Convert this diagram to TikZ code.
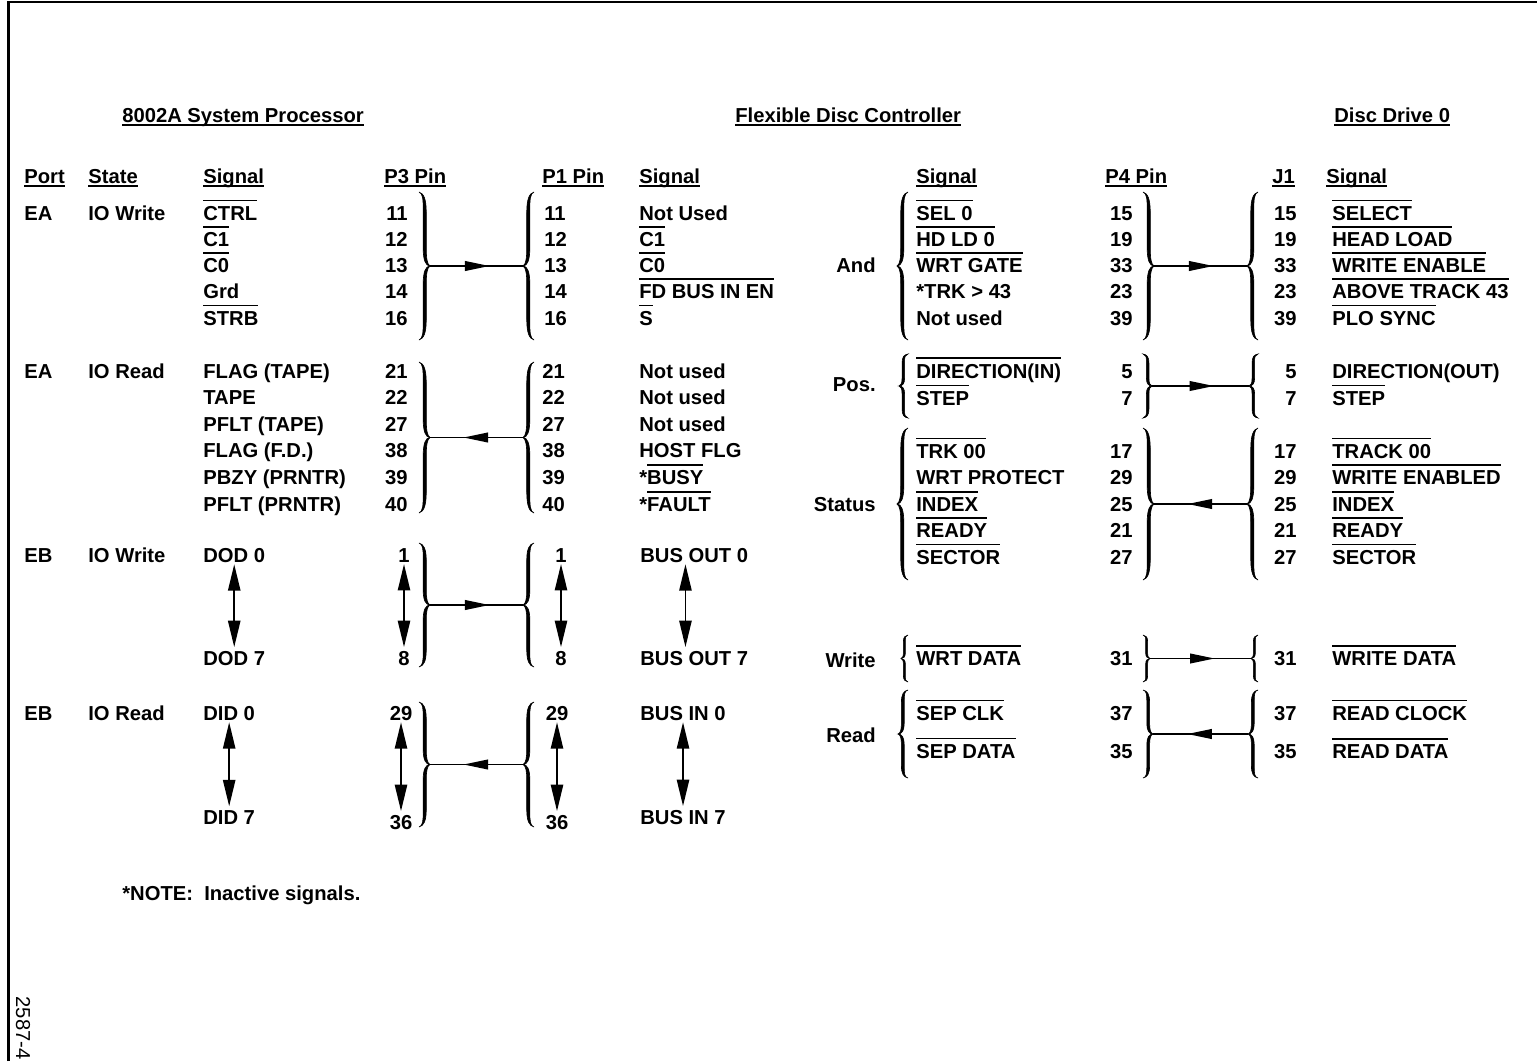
\documentclass[tikz,border=0pt]{standalone}
\usepackage{fontspec}
\setmainfont{Liberation Sans}
\usetikzlibrary{arrows.meta,decorations.markings}

% overlined / underlined signal names
\newbox\olbox
\newcommand{\ovl}[1]{\setbox\olbox\hbox{#1}\rlap{\rule[\dimexpr\ht\olbox+2.6pt\relax]{\wd\olbox}{1pt}}\box\olbox}
\newcommand{\unl}[1]{\setbox\olbox\hbox{#1}\rlap{\rule[-2.4pt]{\wd\olbox}{1pt}}\box\olbox}

% brace: x, top y, bottom y, depth (>0 gives }, <0 gives {)
\newcommand{\brk}[4]{%
  \begin{scope}[shift={(#1,#2)}, xscale=#4, yscale=#3-#2]
    \filldraw[line width=0.35pt] (0,0) .. controls (0.35,0.01) and (0.38,0.05) .. (0.38,0.12)
      -- (0.38,0.38) .. controls (0.38,0.46) and (0.6,0.5) .. (1,0.5)
      .. controls (0.6,0.5) and (0.38,0.54) .. (0.38,0.62)
      -- (0.38,0.88) .. controls (0.38,0.95) and (0.35,0.99) .. (0,1)
      .. controls (0.45,0.99) and (0.66,0.95) .. (0.66,0.86)
      -- (0.66,0.62) .. controls (0.66,0.55) and (0.75,0.51) .. (1,0.5)
      .. controls (0.75,0.49) and (0.66,0.45) .. (0.66,0.38)
      -- (0.66,0.14) .. controls (0.66,0.05) and (0.45,0.01) .. (0,0) -- cycle;
  \end{scope}}

\begin{document}
\begin{tikzpicture}[x=0.02cm, y=-0.02cm,
    every node/.style={font=\fontsize{11.5}{14}\selectfont\bfseries, inner sep=0pt},
    txt/.style={anchor=base west},
    pin/.style={anchor=base east},
    mid/.style={anchor=base},
    link/.style={line width=1pt, postaction={decorate},
      decoration={markings, mark=at position 0.64 with {\arrow{Triangle[length=14pt, width=5.5pt]}}}},
    updown/.style={line width=0.9pt, {Triangle[length=15pt, width=7pt]}-{Triangle[length=15pt, width=7pt]},
      shorten <=1pt, shorten >=2pt}]
    \useasboundingbox (0,0) rectangle (1537,1061);

    % frame
    \draw[line width=1.6pt] (8.5,1061) -- (8.5,2) -- (1537,2);

    % titles
    \node[txt] (hproc) at (122,122) {\unl{8002A System Processor}};
    \node[txt] (hfdc) at (735,122) {\unl{Flexible Disc Controller}};
    \node[txt] (hdrv) at (1334,122) {\unl{Disc Drive 0}};

    % column heads
    \foreach \x/\t/\n in {24/Port/cport, 88/State/cstate, 203/Signal/csig, 384/P3 Pin/cpthree,
        542/P1 Pin/cpone, 639/Signal/csigb, 916/Signal/csigc, 1105/P4 Pin/cpfour, 1272/J1/cjone, 1326/Signal/csigd}
      \node[txt] (\n) at (\x,183) {\unl{\t}};

    % EA, IO Write
    \node[txt] (porta) at (24,220) {EA};
    \node[txt] (statea) at (88,220) {IO Write};
    \foreach \t [count=\i] in {\ovl{CTRL},\ovl{C1},\ovl{C0},Grd,\ovl{STRB}}
      \node[txt] (sa\i) at (203,{193.75+26.25*\i}) {\t};
    \foreach \p [count=\i] in {11,12,13,14,16} {
      \node[pin] (pa\i) at (408,{193.75+26.25*\i}) {\p};
      \node[txt] (qa\i) at (544,{193.75+26.25*\i}) {\p};
    }
    \foreach \t [count=\i] in {Not Used,\ovl{C1},\ovl{C0},\ovl{FD BUS IN EN},\ovl{S}}
      \node[txt] (ra\i) at (639,{193.75+26.25*\i}) {\t};

    % EA, IO Read
    \node[txt] (portb) at (24,378) {EA};
    \node[txt] (stateb) at (88,378) {IO Read};
    \foreach \t [count=\i] in {FLAG (TAPE),TAPE,PFLT (TAPE),FLAG (F.D.),PBZY (PRNTR),PFLT (PRNTR)}
      \node[txt] (sb\i) at (203,{351.4+26.6*\i}) {\t};
    \foreach \p [count=\i] in {21,22,27,38,39,40} {
      \node[pin] (pb\i) at (408,{351.4+26.6*\i}) {\p};
      \node[txt] (qb\i) at (542,{351.4+26.6*\i}) {\p};
    }
    \foreach \t [count=\i] in {Not used,Not used,Not used,HOST FLG,*\ovl{BUSY},*\ovl{FAULT}}
      \node[txt] (rb\i) at (639,{351.4+26.6*\i}) {\t};

    % EB, IO Write
    \node[txt] (portc) at (24,562) {EB};
    \node[txt] (statec) at (88,562) {IO Write};
    \node[txt] (dodz) at (203,562) {DOD 0};
    \node[txt] (dods) at (203,665) {DOD 7};
    \node[mid] (pcz) at (404,562) {1};
    \node[mid] (pcs) at (404,665) {8};
    \node[mid] (qcz) at (561,562) {1};
    \node[mid] (qcs) at (561,665) {8};
    \node[txt] (boz) at (640,562) {BUS OUT 0};
    \node[txt] (bos) at (640,665) {BUS OUT 7};
    \draw[updown] (dodz) -- (dods);
    \draw[updown] (pcz) -- (pcs);
    \draw[updown] (qcz) -- (qcs);
    \draw[updown] ([xshift=-5pt]boz.south) -- ([xshift=-5pt]bos.north);

    % EB, IO Read
    \node[txt] (portd) at (24,720) {EB};
    \node[txt] (stated) at (88,720) {IO Read};
    \node[txt] (didz) at (203,720) {DID 0};
    \node[txt] (dids) at (203,824) {DID 7};
    \node[mid] (pdz) at (401,720) {29};
    \node[mid] (pds) at (401,829) {36};
    \node[mid] (qdz) at (557,720) {29};
    \node[mid] (qds) at (557,829) {36};
    \node[txt] (biz) at (640,720) {BUS IN 0};
    \node[txt] (bis) at (640,824) {BUS IN 7};
    \draw[updown] (didz) -- (dids);
    \draw[updown] (pdz) -- (pds);
    \draw[updown] (qdz) -- (qds);
    \draw[updown] (biz) -- (bis);

    % P3 / P1 braces
    \foreach \n/\a/\b in {a/192/340, b/362/513, c/543/667, d/702/827} {
      \brk{419}{\a}{\b}{11}
      \brk{534}{\a}{\b}{-11}
      \coordinate (pt\n) at (430,{(\a+\b)/2});
      \coordinate (qt\n) at (523,{(\a+\b)/2});
    }
    \draw[link] (pta) -- (qta);
    \draw[link] (qtb) -- (ptb);
    \draw[link] (ptc) -- (qtc);
    \draw[link] (qtd) -- (ptd);

    % controller to drive: And
    \node[pin] (gand) at (876,272) {And};
    \foreach \t [count=\i] in {\ovl{SEL 0},\ovl{HD LD 0},\ovl{WRT GATE},*TRK > 43,Not used}
      \node[txt] (se\i) at (916,{193.75+26.25*\i}) {\t};
    \foreach \p [count=\i] in {15,19,33,23,39} {
      \node[pin] (pe\i) at (1133,{193.75+26.25*\i}) {\p};
      \node[pin] (qe\i) at (1297,{193.75+26.25*\i}) {\p};
    }
    \foreach \t [count=\i] in {\ovl{SELECT},\ovl{HEAD LOAD},\ovl{WRITE ENABLE},\ovl{ABOVE TRACK 43},\ovl{PLO SYNC}}
      \node[txt] (re\i) at (1332,{193.75+26.25*\i}) {\t};

    % Pos.
    \node[pin] (gpos) at (876,391) {Pos.};
    \node[txt] (sf1) at (916,378) {\ovl{DIRECTION(IN)}};
    \node[txt] (sf2) at (916,405) {\ovl{STEP}};
    \node[pin] (pf1) at (1133,378) {5};
    \node[pin] (pf2) at (1133,405) {7};
    \node[pin] (qf1) at (1297,378) {5};
    \node[pin] (qf2) at (1297,405) {7};
    \node[txt] (rf1) at (1332,378) {DIRECTION(OUT)};
    \node[txt] (rf2) at (1332,405) {\ovl{STEP}};

    % Status
    \node[pin] (gstat) at (876,511) {Status};
    \foreach \t [count=\i] in {\ovl{TRK 00},WRT PROTECT,\ovl{INDEX},\ovl{READY},\ovl{SECTOR}}
      \node[txt] (sg\i) at (916,{431.5+26.5*\i}) {\t};
    \foreach \p [count=\i] in {17,29,25,21,27} {
      \node[pin] (pg\i) at (1133,{431.5+26.5*\i}) {\p};
      \node[pin] (qg\i) at (1297,{431.5+26.5*\i}) {\p};
    }
    \foreach \t [count=\i] in {\ovl{TRACK 00},\ovl{WRITE ENABLED},\ovl{INDEX},\ovl{READY},\ovl{SECTOR}}
      \node[txt] (rg\i) at (1332,{431.5+26.5*\i}) {\t};

    % Write
    \node[pin] (gwr) at (876,667) {Write};
    \node[txt] (sh1) at (916,665) {\ovl{WRT DATA}};
    \node[pin] (ph1) at (1133,665) {31};
    \node[pin] (qh1) at (1297,665) {31};
    \node[txt] (rh1) at (1332,665) {\ovl{WRITE DATA}};

    % Read
    \node[pin] (grd) at (876,742) {Read};
    \node[txt] (si1) at (916,720) {\ovl{SEP CLK}};
    \node[txt] (si2) at (916,758) {\ovl{SEP DATA}};
    \node[pin] (pi1) at (1133,720) {37};
    \node[pin] (pi2) at (1133,758) {35};
    \node[pin] (qi1) at (1297,720) {37};
    \node[pin] (qi2) at (1297,758) {35};
    \node[txt] (ri1) at (1332,720) {\ovl{READ CLOCK}};
    \node[txt] (ri2) at (1332,758) {\ovl{READ DATA}};

    % P4 / J1 braces
    \foreach \n/\a/\b/\m in {a/192/340/11, b/354/418/9, c/428/580/11, d/635/682/7, e/690/778/10} {
      \brk{908}{\a}{\b}{-\m}
      \brk{1143}{\a}{\b}{\m}
      \brk{1258}{\a}{\b}{-\m}
      \coordinate (ut\n) at ({1143+\m},{(\a+\b)/2});
      \coordinate (jt\n) at ({1258-\m},{(\a+\b)/2});
    }
    \draw[link] (uta) -- (jta);
    \draw[link] (utb) -- (jtb);
    \draw[link] (jtc) -- (utc);
    \draw[link] (utd) -- (jtd);
    \draw[link] (jte) -- (ute);

    % note and figure number
    \node[txt] (note) at (122,900) {*NOTE:\ \ Inactive signals.};
    \node[rotate=-90, font=\fontsize{11.5}{14}\selectfont] (fignum) at (23,1028) {2587-4};
\end{tikzpicture}
\end{document}
